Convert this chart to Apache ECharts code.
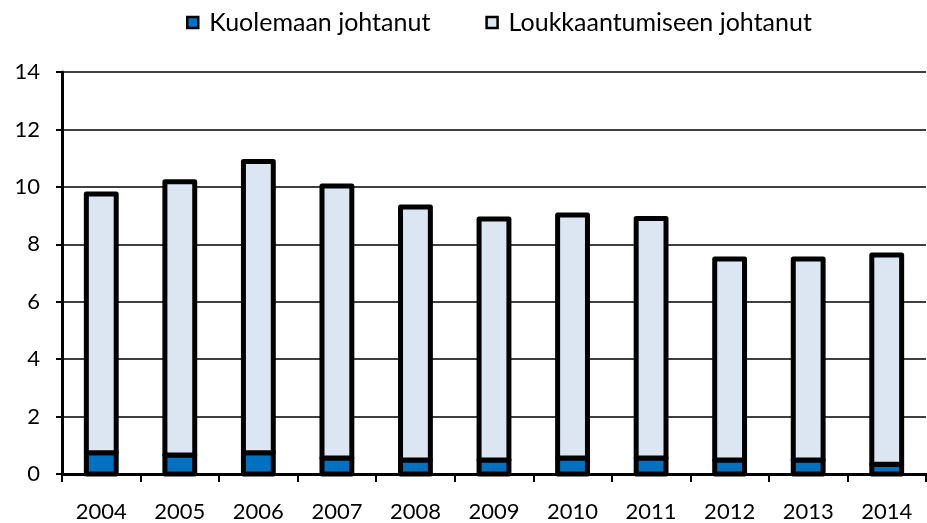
<!DOCTYPE html>
<html>
<head>
<meta charset="utf-8">
<script src="https://cdn.jsdelivr.net/npm/echarts@6/dist/echarts.min.js"></script>
<style>
  html, body { margin: 0; padding: 0; background: #fff; }
  #chart { width: 927px; height: 523px; }
</style>
</head>
<body>
<div id="chart"></div>
<script>
const years = ['2004', '2005', '2006', '2007', '2008', '2009', '2010', '2011', '2012', '2013', '2014']
const deaths = [0.74, 0.66, 0.74, 0.56, 0.49, 0.49, 0.56, 0.56, 0.49, 0.49, 0.34]
const injuries = [9.01, 9.52, 10.14, 9.47, 8.81, 8.39, 8.46, 8.34, 7.0, 7.0, 7.29]
const seriesNames = ['Kuolemaan johtanut', 'Loukkaantumiseen johtanut']
const yTicks = { min: 0, max: 14, step: 2 }

const fontFamily = 'Lato, "Open Sans", sans-serif'
const chart = echarts.init(document.getElementById('chart'))

// stacked segments as [category index, low, high]
const deathData = deaths.map((v, i) => [i, 0, v])
const injuryData = injuries.map((v, i) => [i, deaths[i], deaths[i] + v])

// draw the bar with its outline centred on the value edge (like the original)
const renderBar = (params, api) => {
  const low = api.coord([api.value(0), api.value(1)])
  const high = api.coord([api.value(0), api.value(2)])
  const width = api.size([1, 0])[0] * 0.38
  return {
    type: 'rect',
    shape: { x: low[0] - width / 2, y: high[1], width, height: low[1] - high[1] },
    style: { fill: api.visual('color'), stroke: '#000', lineWidth: 5, lineJoin: 'round' }
  }
}

const option = {
  animation: false,
  legend: {
    top: 5,
    left: 181,
    icon: 'rect',
    itemWidth: 11,
    itemHeight: 11,
    itemGap: 55,
    textStyle: { fontFamily, fontSize: 25, color: '#000', padding: [0, 0, 0, 6] },
    data: seriesNames.map(name => ({ name, itemStyle: { borderColor: '#000', borderWidth: 2.5 } }))
  },
  grid: {
    left: 62,
    right: 1,
    top: 72,
    bottom: 49
  },
  xAxis: {
    type: 'category',
    data: years,
    axisLine: { lineStyle: { color: '#000', width: 3 } },
    axisTick: { show: true, length: 8, lineStyle: { color: '#000', width: 2 } },
    axisLabel: { color: '#000', fontFamily, fontSize: 22, margin: 27 }
  },
  yAxis: {
    type: 'value',
    min: yTicks.min,
    max: yTicks.max,
    interval: yTicks.step,
    axisLine: { show: true, lineStyle: { color: '#000', width: 3 } },
    axisTick: { show: true, length: 6, lineStyle: { color: '#000', width: 2 } },
    axisLabel: { color: '#000', fontFamily, fontSize: 22, margin: 22 },
    splitLine: { lineStyle: { color: '#000', width: 1.5 } }
  },
  series: [
    {
      name: seriesNames[0],
      type: 'custom',
      renderItem: renderBar,
      encode: { x: 0, y: [1, 2] },
      data: deathData,
      itemStyle: { color: '#0070C0' }
    },
    {
      name: seriesNames[1],
      type: 'custom',
      renderItem: renderBar,
      encode: { x: 0, y: [1, 2] },
      data: injuryData,
      itemStyle: { color: '#DCE6F2' }
    }
  ]
}

chart.setOption(option)
</script>
</body>
</html>
